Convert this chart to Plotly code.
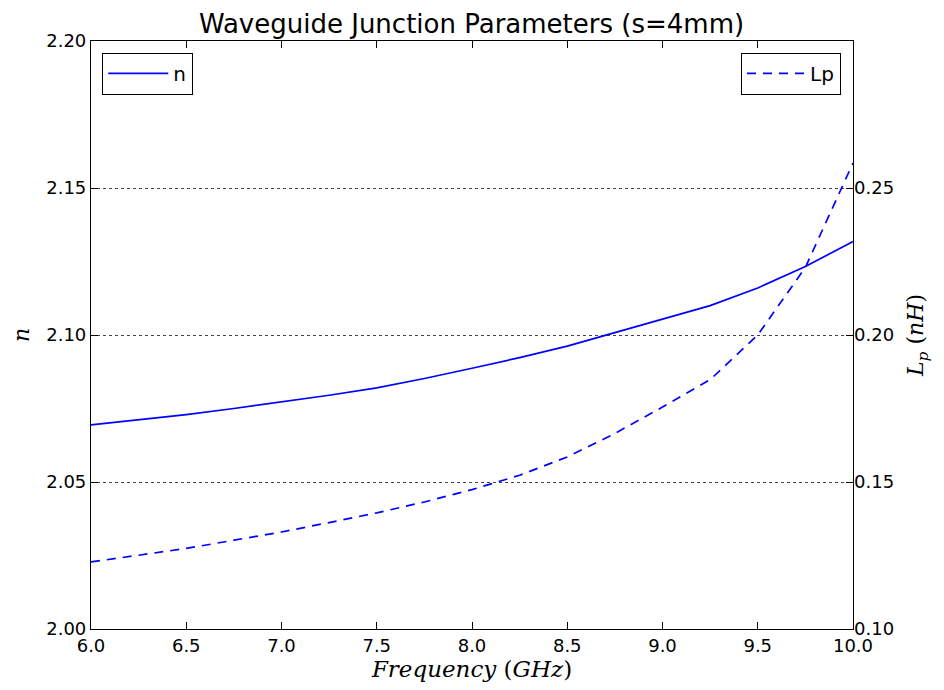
import plotly.graph_objects as go

freq = [6.0, 6.25, 6.5, 6.75, 7.0, 7.25, 7.5, 7.75, 8.0, 8.25, 8.5, 8.75, 9.0, 9.25, 9.5, 9.75, 10.0]
n_vals = [2.0694, 2.0711, 2.0729, 2.0750, 2.0772, 2.0795, 2.0820, 2.0852, 2.0887, 2.0923,
          2.0962, 2.1008, 2.1052, 2.1100, 2.1160, 2.1233, 2.1318]
lp_vals = [0.1228, 0.1250, 0.1274, 0.1302, 0.1330, 0.1362, 0.1395, 0.1432, 0.1474, 0.1523,
           0.1585, 0.1665, 0.1755, 0.1848, 0.2000, 0.2230, 0.2585]
x_ticks = [6.0, 6.5, 7.0, 7.5, 8.0, 8.5, 9.0, 9.5, 10.0]
n_ticks = [2.00, 2.05, 2.10, 2.15, 2.20]
lp_ticks = [0.10, 0.15, 0.20, 0.25]

BLUE = "#0000ff"
FONT = "DejaVu Sans"
SERIF = "DejaVu Serif"

fig = go.Figure()
fig.add_trace(go.Scatter(x=freq, y=n_vals, mode="lines", name="n", showlegend=True,
                         line=dict(color=BLUE, width=1.7), legend="legend"))
fig.add_trace(go.Scatter(x=freq, y=lp_vals, mode="lines", name="Lp", yaxis="y2", showlegend=True,
                         line=dict(color=BLUE, width=1.7, dash="9px,7px"), legend="legend2"))

fig.update_layout(
    width=944, height=690,
    margin=dict(l=83, r=99, t=33, b=69),
    paper_bgcolor="white", plot_bgcolor="white",
    showlegend=True,
    font=dict(family=FONT, size=18, color="black"),
    title=dict(text="Waveguide Junction Parameters (s=4mm)", x=0.491, xanchor="center",
               y=0.977, yanchor="middle", font=dict(size=26, family=FONT), automargin=False),
    xaxis=dict(range=[6.0, 10.0], tickvals=x_ticks, ticktext=[f"{v:.1f}" for v in x_ticks],
               ticks="inside", ticklen=7, tickcolor="black", showline=True, linecolor="black",
               linewidth=1.2, mirror="ticks", showgrid=False, zeroline=False, automargin=False,
               title=dict(text="<i>Frequency</i> (<i>GHz</i>)", standoff=4,
                          font=dict(family=SERIF, size=23))),
    yaxis=dict(range=[2.0, 2.2], tickvals=n_ticks, ticktext=[f"{v:.2f}" for v in n_ticks],
               ticks="inside", ticklen=7, tickcolor="black", showline=True, linecolor="black",
               linewidth=1.2, mirror=True, showgrid=True, gridcolor="#444444", gridwidth=1,
               griddash="dot", zeroline=False, automargin=False,
               title=dict(text="<i>n</i>", standoff=10, font=dict(family=SERIF, size=22))),
    yaxis2=dict(range=[0.10, 0.30], tickvals=lp_ticks, ticktext=[f"{v:.2f}" for v in lp_ticks],
                overlaying="y", side="right", ticks="inside", ticklen=7, tickcolor="black",
                showline=False, showgrid=False, zeroline=False, automargin=False,
                title=dict(text="<i>L<sub>p</sub></i> (<i>nH</i>)", standoff=14,
                           font=dict(family=SERIF, size=22))),
    legend=dict(x=0.0145, y=0.98, xanchor="left", yanchor="top", bordercolor="black",
                borderwidth=1.2, bgcolor="white", font=dict(size=20), itemwidth=60),
    legend2=dict(x=0.984, y=0.98, xanchor="right", yanchor="top", bordercolor="black",
                 borderwidth=1.2, bgcolor="white", font=dict(size=20), itemwidth=58),
)

fig.write_html("out.html")
